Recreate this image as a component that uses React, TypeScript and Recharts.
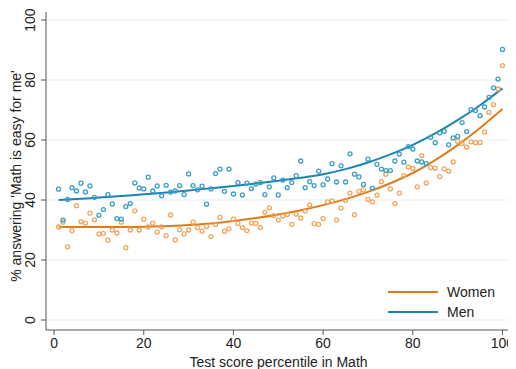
import {
  CartesianGrid,
  ComposedChart,
  Line,
  Scatter,
  XAxis,
  YAxis,
} from "recharts";

// share answering "Math is easy for me", by test score percentile 1..100
const WOMEN = [
  31, 32.6, 24.4, 29.8, 38.1, 32.8, 32.3, 35.6, 33.4, 28.7,
  28.9, 26.6, 30, 29, 32.6, 24.1, 30, 36.4, 30, 33.6,
  31, 32.3, 29.3, 31, 28.1, 35, 26.7, 30.1, 28.7, 30,
  32.6, 30.8, 29.6, 31.2, 27.8, 31.8, 34.2, 29.6, 30.4, 33.6,
  32.2, 30.8, 29.8, 32.3, 32.2, 30.8, 35.9, 37.4, 34.8, 33.3,
  34.7, 35.2, 31.9, 35.3, 34, 36.3, 38.3, 32.1, 31.9, 33.8,
  39.4, 39.7, 33.4, 37.3, 39.9, 42.3, 35.1, 42.9, 43.4, 40.2,
  39.4, 41.6, 46.1, 48.6, 43.7, 38.8, 42.3, 48.1, 51, 50.5,
  44.4, 54.8, 45.7, 50.8, 50.6, 47.8, 50.4, 49.6, 52.7, 59.6,
  58.8, 57.6, 59.4, 59.1, 59.2, 62.7, 69.2, 71.8, 77, 84.8,
];

const MEN = [
  43.6, 33.3, 40.2, 44.1, 43, 45.6, 42.7, 44.7, 40.9, 34.9,
  36.8, 41.8, 38.7, 33.8, 33.6, 37.8, 38.8, 45.7, 44, 43.7,
  47.6, 43, 44.7, 41.4, 44.9, 42.6, 43, 44.8, 41.8, 48.7,
  44.8, 43.4, 44.6, 38.6, 43.7, 48.8, 50.3, 42.9, 50.3, 42,
  45.8, 41.7, 45.6, 43.8, 45.3, 45.8, 41.8, 44.4, 47.4, 41.7,
  46.6, 44.1, 45.8, 48.1, 53, 44.1, 46.1, 44.8, 49.6, 45.1,
  47, 52.1, 46, 51.4, 46, 55.4, 48.6, 47.7, 45.2, 53.6,
  43.9, 51.9, 50.3, 49.8, 49.8, 53, 55.3, 52.6, 57.8, 57,
  53, 52.7, 52.1, 60.9, 59.1, 62.4, 62.9, 58.4, 60.7, 61.2,
  65.8, 62.8, 70.1, 69.8, 68.1, 71, 74.2, 77.4, 80.3, 90.2,
];

// fitted curves, read at every 5th percentile
const FIT_PCT = [1, 5, 10, 15, 20, 25, 30, 35, 40, 45, 50, 55, 60, 65, 70, 75, 80, 85, 90, 95, 100];
const WOMEN_FIT = [31.1, 31, 31, 31, 31.1, 31.3, 31.7, 32.2, 33, 34, 35.2, 36.6, 38.3, 40.3, 42.7, 45.6, 49, 53.3, 58.3, 64, 70.3];
const MEN_FIT = [40, 40.3, 40.8, 41.3, 41.9, 42.5, 43.2, 43.9, 44.7, 45.5, 46.4, 47.4, 48.6, 50.3, 52.5, 55.2, 58.4, 62.2, 66.6, 71.6, 77.2];

const X_TICKS = [0, 20, 40, 60, 80, 100];
const Y_TICKS = [0, 20, 40, 60, 80, 100];

const WOMEN_DOT = "#f2a55c";
const MEN_DOT = "#3b9ec6";
const WOMEN_LINE = "#e07b1c";
const MEN_LINE = "#1d84b1";
const FONT = "'Liberation Sans', Arial, sans-serif";

const toPoints = (vals: number[]) => vals.map((y, i) => ({ x: i + 1, y }));
const toFit = (vals: number[]) => FIT_PCT.map((x, i) => ({ x, y: vals[i] }));

const ring = (color: string) => (props: any) =>
  (
    <circle
      cx={props.cx}
      cy={props.cy}
      r={2}
      fill="none"
      stroke={color}
      strokeWidth={1.3}
    />
  );

function YTick(props: any) {
  const { y, payload } = props;
  const x = 27;
  return (
    <text
      x={x}
      y={y}
      transform={`rotate(-90 ${x} ${y})`}
      textAnchor="middle"
      fontSize={14}
      fontFamily={FONT}
      fill="#222"
    >
      {payload.value}
    </text>
  );
}

function YLabel(props: any) {
  const { viewBox } = props;
  const cy = viewBox.y + viewBox.height / 2 + 5;
  const x = 13;
  return (
    <text
      x={x}
      y={cy}
      transform={`rotate(-90 ${x} ${cy})`}
      textAnchor="middle"
      fontSize={14}
      fontFamily={FONT}
      fill="#222"
    >
      % answering 'Math is easy for me'
    </text>
  );
}

export default function App() {
  return (
    <div style={{ position: "relative", width: 508, height: 361 }}>
      <ComposedChart
        width={508}
        height={361}
        margin={{ top: 4, right: 5, bottom: 1, left: 0 }}
      >
        <CartesianGrid
          vertical={false}
          stroke="#e6eff1"
          horizontalValues={Y_TICKS}
        />
        <XAxis
          type="number"
          dataKey="x"
          domain={[-1.8, 101.9]}
          ticks={X_TICKS}
          allowDataOverflow
          height={38}
          stroke="#555"
          tickSize={5}
          tickMargin={3}
          tick={{ fontSize: 14, fontFamily: FONT, fill: "#222" }}
          label={{
            value: "Test score percentile in Math",
            position: "insideBottom",
            offset: 1,
            fontSize: 14,
            fontFamily: FONT,
            fill: "#222",
          }}
        />
        <YAxis
          type="number"
          dataKey="y"
          domain={[-3.33, 102.67]}
          ticks={Y_TICKS}
          allowDataOverflow
          width={38}
          stroke="#555"
          tickSize={5}
          tick={<YTick />}
          label={<YLabel />}
        />
        <Scatter
          data={toPoints(WOMEN)}
          shape={ring(WOMEN_DOT)}
          isAnimationActive={false}
        />
        <Scatter
          data={toPoints(MEN)}
          shape={ring(MEN_DOT)}
          isAnimationActive={false}
        />
        <Line
          data={toFit(WOMEN_FIT)}
          dataKey="y"
          type="monotone"
          stroke={WOMEN_LINE}
          strokeWidth={2}
          dot={false}
          isAnimationActive={false}
        />
        <Line
          data={toFit(MEN_FIT)}
          dataKey="y"
          type="monotone"
          stroke={MEN_LINE}
          strokeWidth={2}
          dot={false}
          isAnimationActive={false}
        />
      </ComposedChart>
      <div
        style={{
          position: "absolute",
          left: 380,
          top: 274,
          fontFamily: FONT,
          fontSize: 14,
          color: "#222",
          lineHeight: "20px",
        }}
      >
        {[
          { name: "Women", color: WOMEN_LINE },
          { name: "Men", color: MEN_LINE },
        ].map((s) => (
          <div key={s.name} style={{ display: "flex", alignItems: "center" }}>
            <svg width={59} height={20}>
              <line x1={0} y1={10} x2={50} y2={10} stroke={s.color} strokeWidth={2} />
            </svg>
            <span>{s.name}</span>
          </div>
        ))}
      </div>
    </div>
  );
}
